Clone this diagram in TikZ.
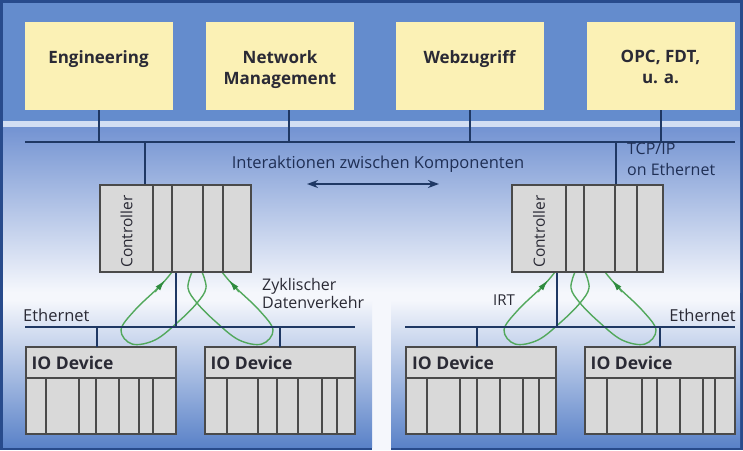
\documentclass[tikz,border=0pt]{standalone}
\usepackage{fontspec}
\setmainfont{Open Sans}
\usetikzlibrary{arrows.meta}
\definecolor{framec}{HTML}{284B8C}
\definecolor{topblue}{HTML}{648CCD}
\definecolor{stripec}{HTML}{D2DEF3}
\definecolor{midtop}{HTML}{7393D2}
\definecolor{paperw}{HTML}{F5F7FC}
\definecolor{panelblue}{HTML}{5A82C8}
\definecolor{ylw}{HTML}{FBF1B5}
\definecolor{gry}{HTML}{D9D9D9}
\definecolor{gryline}{HTML}{4A4A4A}
\definecolor{busc}{HTML}{1F3864}
\definecolor{grn}{HTML}{52A85C}
\definecolor{grnd}{HTML}{2E8B3E}
\definecolor{txtc}{HTML}{2A2A35}
\definecolor{txtn}{HTML}{1F2F55}
\tikzset{
  ybox/.style={fill=ylw, draw=none, minimum width=148pt, minimum height=88pt, inner sep=0pt, outer sep=0pt},
  gbox/.style={fill=gry, draw=gryline, line width=2pt, inner sep=0pt, outer sep=0pt},
  iobox/.style={gbox, minimum width=150pt, minimum height=87pt},
  ctrlbox/.style={gbox, minimum width=151pt, minimum height=87pt},
  busline/.style={draw=busc, line width=2pt},
  gdiv/.style={draw=gryline, line width=2pt},
  loopline/.style={draw=grn, line width=1.4pt},
  looptip/.style={draw=grn, line width=1.4pt, -{Latex[length=11pt,width=6pt,color=grnd]}},
  toplbl/.style={font=\fontsize{17}{21}\selectfont\bfseries, text=txtc, align=center, inner sep=0pt, anchor=north},
  iolbl/.style={font=\fontsize{17.5}{20}\selectfont\bfseries, text=txtc, inner sep=0pt, anchor=west},
  ctrllbl/.style={font=\fontsize{15.5}{17}\selectfont, text=txtc, inner sep=0pt, rotate=90},
  plainlbl/.style={font=\fontsize{16.5}{19}\selectfont, text=txtn, inner sep=0pt},
  pics/cyclic/.style={code={
    \draw[loopline] plot[smooth, tension=0.6] coordinates
      {(5,-31) (9,-15) (0,0) (-19,19) (-42,37) (-65,41) (-76,27) (-62,7) (-37,-17) (-25,-31)};
    \draw[loopline] plot[smooth, tension=0.6] coordinates
      {(-5,-31) (-9,-15) (0,0) (19,19) (42,37) (65,41) (76,27) (62,7) (37,-17) (25,-31)};
    \draw[looptip] (-42,-11) -- (-32,-23);
    \draw[looptip] (42,-11) -- (32,-23);
  }}
}
\begin{document}
\begin{tikzpicture}[x=1pt,y=-1pt]
\useasboundingbox (0,0) rectangle (743,450);
% background
\fill[framec] (0,0) rectangle (743,450);
\fill[topblue] (3,3) rectangle (740,121);
\fill[stripec] (3,121) rectangle (740,127);
\shade[top color=midtop, bottom color=paperw] (3,127) rectangle (740,292);
\fill[paperw] (3,292) rectangle (740,300);
\fill[paperw] (372,292) rectangle (391,450);
\shade[top color=paperw, bottom color=panelblue] (3,300) rectangle (372,447);
\shade[top color=paperw, bottom color=panelblue] (391,300) rectangle (740,447);

% top boxes
\node[ybox] (eng) at (98.5,66) {};
\node[ybox] (nm)  at (280,66) {};
\node[ybox] (web) at (469.5,66) {};
\node[ybox] (opc) at (660.5,66) {};
\node[toplbl] (engt) at ([yshift=-28pt]eng.north) {Engineering};
\node[toplbl] (nmt)  at ([yshift=-28pt]nm.north) {Network\\Management};
\node[toplbl] (webt) at ([yshift=-28pt]web.north) {Webzugriff};
\node[toplbl] (opct) at ([yshift=-28pt]opc.north) {OPC, FDT,\\u. a.};

% upper bus
\coordinate (busL) at (25,142);
\coordinate (busR) at (735,142);
\draw[busline] (busL) -- (busR);
\coordinate (engd) at (eng.south);
\path ([xshift=9pt]nm.south) coordinate (nmd);
\coordinate (webd) at (web.south);
\coordinate (opcd) at (opc.south);
\foreach \c in {engd,nmd,webd,opcd} \draw[busline] (\c) -- (\c |- busL);

% controllers
\node[ctrlbox] (ctrlL) at (175.5,228.5) {};
\node[ctrlbox] (ctrlR) at (587.5,228.5) {};

% green cyclic loops (behind lines)
\coordinate (crossL) at (197,303);
\coordinate (crossR) at (580,303);
\pic at (crossL) {cyclic};
\pic at (crossR) {cyclic};

% ethernet buses
\coordinate (ethL1) at (25,327);
\coordinate (ethL2) at (355,327);
\coordinate (ethR1) at (405,327);
\coordinate (ethR2) at (735,327);
\draw[busline] (ethL1) -- (ethL2);
\draw[busline] (ethR1) -- (ethR2);

% controller drops
\path ([xshift=-30.5pt]ctrlL.north) coordinate (cLtop);
\path ([xshift=28.5pt]ctrlR.north) coordinate (cRtop);
\draw[busline] (cLtop |- busL) -- (cLtop);
\draw[busline] (cRtop |- busL) -- (cRtop);
\path ([xshift=0.5pt]ctrlL.south) coordinate (cLbot);
\path ([xshift=-30.5pt]ctrlR.south) coordinate (cRbot);
\draw[busline] (cLbot) -- (cLbot |- ethL1);
\draw[busline] (cRbot) -- (cRbot |- ethR1);

% redraw controllers on top
\node[ctrlbox] (ctrlL2) at (ctrlL) {};
\node[ctrlbox] (ctrlR2) at (ctrlR) {};
\foreach \d in {53,72,103,123}
  \draw[gdiv] ([xshift=\d pt]ctrlL.north west) -- ([xshift=\d pt]ctrlL.south west);
\foreach \d in {54,72,103,125}
  \draw[gdiv] ([xshift=\d pt]ctrlR.north west) -- ([xshift=\d pt]ctrlR.south west);
\node[ctrllbl] (ctrlLt) at ([xshift=26.5pt,yshift=-3pt]ctrlL.west) {Controller};
\node[ctrllbl] (ctrlRt) at ([xshift=27pt,yshift=-3pt]ctrlR.west) {Controller};

% IO devices
\node[iobox] (io1) at (100.5,390.5) {};
\node[iobox] (io2) at (279.5,390.5) {};
\node[iobox] (io3) at (481,390.5) {};
\node[iobox] (io4) at (659.5,390.5) {};
\foreach \n/\s in {io1/-3.5,io2/0,io3/-4,io4/0}{
  \path ([xshift=\s pt]\n.north) coordinate (\n d);
  \draw[busline] (\n d) -- (\n d |- ethL1);
  \draw[gdiv] ([yshift=-31pt]\n.north west) -- ([yshift=-31pt]\n.north east);
  \node[iolbl] (\n t) at ([xshift=6pt,yshift=-16pt]\n.north west) {IO Device};
}
\foreach \d in {20.5,53.5,70.5,93.5,113.5,127.5}
  \draw[gdiv] ([xshift=\d pt,yshift=-31pt]io1.north west) -- ([xshift=\d pt]io1.south west);
\foreach \d in {22.5,53.5,72.5,93.5,117.5,132.5}
  \draw[gdiv] ([xshift=\d pt,yshift=-31pt]io2.north west) -- ([xshift=\d pt]io2.south west);
\foreach \d in {21,54,71,94,117,133}
  \draw[gdiv] ([xshift=\d pt,yshift=-31pt]io3.north west) -- ([xshift=\d pt]io3.south west);
\foreach \d in {22.5,57.5,72.5,95.5,118.5,130.5}
  \draw[gdiv] ([xshift=\d pt,yshift=-31pt]io4.north west) -- ([xshift=\d pt]io4.south west);

% interaction arrow and texts
\node[plainlbl, font=\fontsize{16.5}{19}\selectfont] (inter) at (378,164) {Interaktionen zwischen Komponenten};
\coordinate (ia1) at (307,184);
\coordinate (ia2) at (439,184);
\draw[busc, line width=1.6pt, {Stealth[length=11pt,width=8pt]}-{Stealth[length=11pt,width=8pt]}] (ia1) -- (ia2);
\node[plainlbl, align=left, anchor=north west, font=\fontsize{16}{21}\selectfont] (tcp) at (627,143) {TCP/IP\\on Ethernet};
\node[plainlbl, anchor=west, text=txtc] (ethlL) at (23,315) {Ethernet};
\node[plainlbl, anchor=east, text=txtc] (ethlR) at (736,315) {Ethernet};
\node[plainlbl, align=left, anchor=north west, text=txtc, font=\fontsize{16}{18}\selectfont] (zyk) at (262,278) {Zyklischer\\Datenverkehr};
\node[plainlbl, text=txtc, font=\fontsize{15}{16}\selectfont] (irt) at (504,300) {IRT};
\end{tikzpicture}
\end{document}
